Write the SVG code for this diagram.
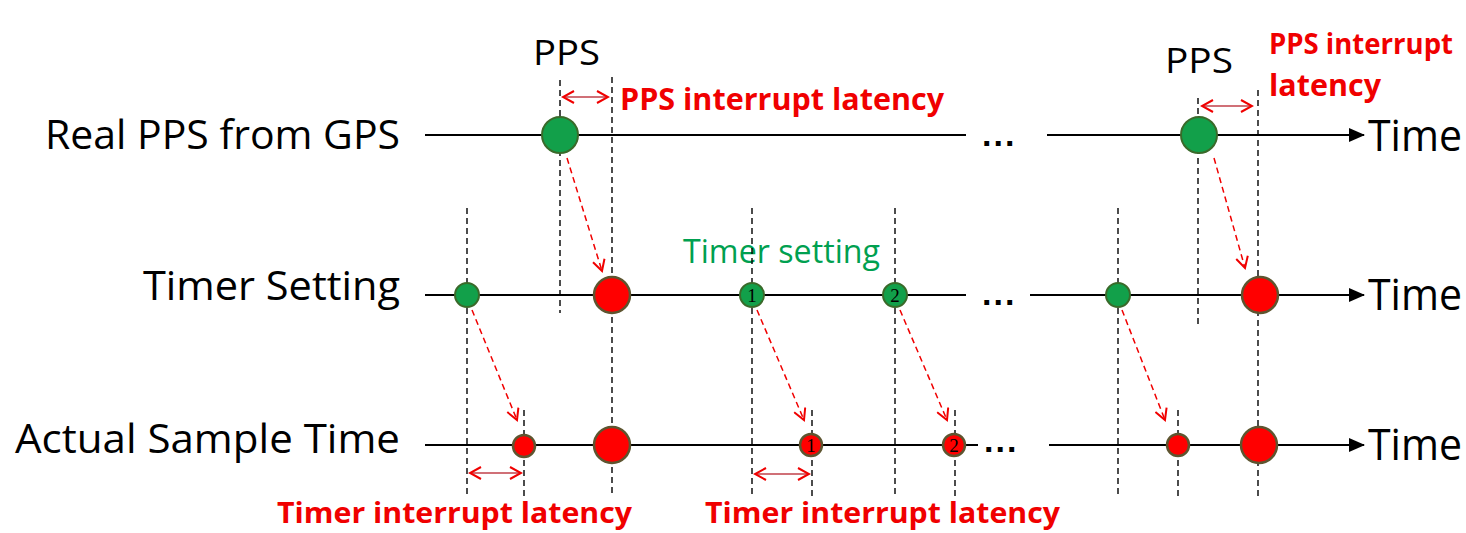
<svg xmlns="http://www.w3.org/2000/svg" width="1466" height="533" viewBox="0 0 1466 533">
<defs>
<style>
.lbl{font-family:"Open Sans","Liberation Sans",sans-serif;font-size:41px;fill:#000}
.time{font-family:"Open Sans","Liberation Sans",sans-serif;font-size:44px;fill:#000}
.pps{font-family:"Open Sans","Liberation Sans",sans-serif;font-size:34px;fill:#000}
.red{font-family:"Open Sans","Liberation Sans",sans-serif;font-size:30px;font-weight:bold;fill:#f00000}
.redb{font-family:"Open Sans","Liberation Sans",sans-serif;font-size:29px;font-weight:bold;fill:#f00000}
.redr{font-family:"Open Sans","Liberation Sans",sans-serif;font-size:28px;font-weight:bold;fill:#f00000}
.grn{font-family:"Open Sans","Liberation Sans",sans-serif;font-size:32px;fill:#00a050}
.dots{font-family:"Liberation Sans",sans-serif;font-size:34px;font-weight:bold;fill:#000;letter-spacing:2px}
.num{font-family:"Liberation Serif",serif;font-size:19px;fill:#000;text-anchor:middle}
.axis{stroke:#000;stroke-width:2;fill:none}
.vd{stroke:#000;stroke-width:1.4;stroke-dasharray:6 4;fill:none}
.ra{stroke:#f00000;stroke-width:1.5;stroke-dasharray:6 4;fill:none;marker-end:url(#oh)}
.lat{stroke:#c0404a;stroke-width:1.6;fill:none;marker-start:url(#lh);marker-end:url(#lh)}
.g{fill:#12a04a;stroke:#3a6a2a;stroke-width:2}
.r{fill:#ff0000;stroke:#5e5530;stroke-width:2.5}
</style>
<marker id="ah" markerWidth="16" markerHeight="14" refX="15" refY="7" orient="auto" markerUnits="userSpaceOnUse"><path d="M0,0 L16,7 L0,14 Z" fill="#000"/></marker>
<marker id="oh" markerWidth="14" markerHeight="14" refX="12" refY="7" orient="auto" markerUnits="userSpaceOnUse"><path d="M1,1 L12,7 L1,13" fill="none" stroke="#f00000" stroke-width="2"/></marker>
<marker id="lh" markerWidth="14" markerHeight="14" refX="12" refY="7" orient="auto-start-reverse" markerUnits="userSpaceOnUse"><path d="M1,1 L12,7 L1,13" fill="none" stroke="#f00000" stroke-width="2"/></marker>
</defs>

<g id="labels">
<text class="lbl" x="45" y="149" textLength="355" lengthAdjust="spacingAndGlyphs">Real PPS from GPS</text>
<text class="lbl" x="143" y="300" textLength="257" lengthAdjust="spacingAndGlyphs">Timer Setting</text>
<text class="lbl" x="15" y="453" textLength="385" lengthAdjust="spacingAndGlyphs">Actual Sample Time</text>
<text class="time" x="1368" y="151" textLength="94" lengthAdjust="spacingAndGlyphs">Time</text>
<text class="time" x="1368" y="310" textLength="94" lengthAdjust="spacingAndGlyphs">Time</text>
<text class="time" x="1368" y="460" textLength="94" lengthAdjust="spacingAndGlyphs">Time</text>
<text class="dots" x="982" y="146">...</text>
<text class="dots" x="982" y="305">...</text>
<text class="dots" x="984" y="452">...</text>
<text class="pps" x="533" y="65" textLength="67" lengthAdjust="spacingAndGlyphs">PPS</text>
<text class="pps" x="1165" y="73" textLength="68" lengthAdjust="spacingAndGlyphs">PPS</text>
<text class="red" x="620" y="110" textLength="324" lengthAdjust="spacingAndGlyphs">PPS interrupt latency</text>
<text class="redr" x="1269" y="54" textLength="184" lengthAdjust="spacingAndGlyphs">PPS interrupt</text>
<text class="red" x="1269" y="96" textLength="112" lengthAdjust="spacingAndGlyphs">latency</text>
<text class="grn" x="683" y="263" textLength="197" lengthAdjust="spacingAndGlyphs">Timer setting</text>
<text class="redb" x="277" y="523" textLength="355" lengthAdjust="spacingAndGlyphs">Timer interrupt latency</text>
<text class="redb" x="705" y="523" textLength="355" lengthAdjust="spacingAndGlyphs">Timer interrupt latency</text>
</g>

<g id="connectors">
<line class="axis" x1="425" y1="135" x2="966" y2="135"/>
<line class="axis" x1="1047" y1="135" x2="1364" y2="135" marker-end="url(#ah)"/>
<line class="axis" x1="425" y1="295" x2="966" y2="295"/>
<line class="axis" x1="1030" y1="295" x2="1364" y2="295" marker-end="url(#ah)"/>
<line class="axis" x1="425" y1="445" x2="978" y2="445"/>
<line class="axis" x1="1049" y1="445" x2="1364" y2="445" marker-end="url(#ah)"/>

<line class="vd" x1="560" y1="80" x2="560" y2="313"/>
<line class="vd" x1="612" y1="77" x2="612" y2="496"/>
<line class="vd" x1="467" y1="208" x2="467" y2="496"/>
<line class="vd" x1="752" y1="208" x2="752" y2="496"/>
<line class="vd" x1="895" y1="208" x2="895" y2="496"/>
<line class="vd" x1="524" y1="410" x2="524" y2="496"/>
<line class="vd" x1="812" y1="410" x2="812" y2="496"/>
<line class="vd" x1="955" y1="410" x2="955" y2="496"/>
<line class="vd" x1="1118" y1="208" x2="1118" y2="496"/>
<line class="vd" x1="1178" y1="410" x2="1178" y2="496"/>
<line class="vd" x1="1198" y1="98" x2="1198" y2="328"/>
<line class="vd" x1="1258" y1="90" x2="1258" y2="496"/>

<line class="ra" x1="567" y1="158" x2="602" y2="271"/>
<line class="ra" x1="1214" y1="158" x2="1245" y2="268"/>
<line class="ra" x1="472" y1="310" x2="517" y2="420"/>
<line class="ra" x1="757" y1="310" x2="804" y2="420"/>
<line class="ra" x1="900" y1="310" x2="947" y2="420"/>
<line class="ra" x1="1122" y1="310" x2="1165" y2="420"/>

<line class="lat" x1="563" y1="97" x2="608" y2="97"/>
<line class="lat" x1="1202" y1="106" x2="1252" y2="106"/>
<line class="lat" x1="470" y1="473" x2="521" y2="473"/>
<line class="lat" x1="755" y1="474" x2="809" y2="474"/>
</g>

<g id="n-pps1"><circle class="g" cx="560" cy="135" r="18"/></g>
<g id="n-pps2"><circle class="g" cx="1199" cy="135" r="18"/></g>
<g id="n-ts0"><circle class="g" cx="467" cy="295" r="12"/></g>
<g id="n-tsr1"><circle class="r" cx="612" cy="295" r="18"/></g>
<g id="n-ts1"><circle class="g" cx="752" cy="295" r="12"/><text class="num" x="752" y="302">1</text></g>
<g id="n-ts2"><circle class="g" cx="895" cy="295" r="12"/><text class="num" x="895" y="302">2</text></g>
<g id="n-ts3"><circle class="g" cx="1118" cy="295" r="12"/></g>
<g id="n-tsr2"><circle class="r" cx="1260" cy="295" r="18"/></g>
<g id="n-as0"><circle class="r" cx="524" cy="446" r="11"/></g>
<g id="n-asr1"><circle class="r" cx="612" cy="445" r="18"/></g>
<g id="n-as1"><circle class="r" cx="811" cy="445" r="11"/><text class="num" x="811" y="452">1</text></g>
<g id="n-as2"><circle class="r" cx="954" cy="445" r="11"/><text class="num" x="954" y="452">2</text></g>
<g id="n-as3"><circle class="r" cx="1178" cy="445" r="11"/></g>
<g id="n-asr2"><circle class="r" cx="1259" cy="445" r="18"/></g>
</svg>
